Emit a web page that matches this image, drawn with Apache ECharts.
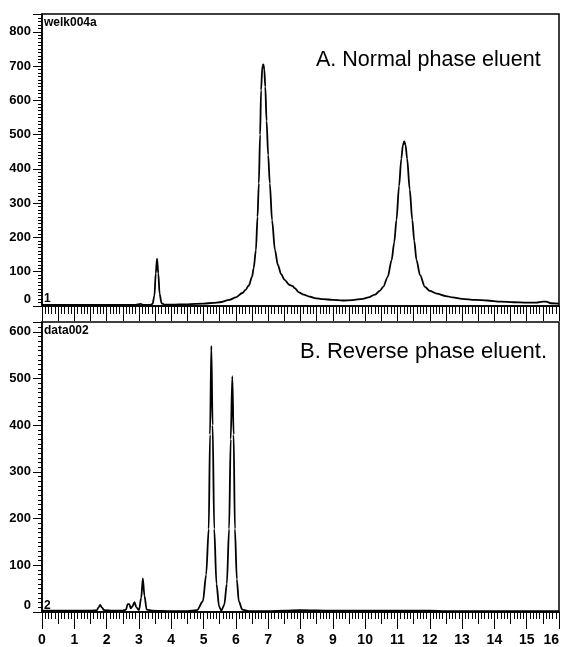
<!DOCTYPE html>
<html>
<head>
<meta charset="utf-8">
<script src="https://cdn.jsdelivr.net/npm/echarts@6/dist/echarts.min.js"></script>
<style>html,body{margin:0;padding:0;background:#fff;}#c{width:563px;height:647px;}</style>
</head>
<body>
<div id="c"></div>
<script>
// Panel A (normal phase) retention time (min) and signal
var topT = [0.0,0.5,1.0,1.5,2.0,2.5,2.9,3.05,3.15,3.35,3.42,3.48,3.52,3.56,3.60,3.64,3.70,3.8,4.0,4.5,5.0,5.3,5.5,5.8,6.0,6.2,6.3,6.4,6.5,6.55,6.62,6.67,6.71,6.75,6.78,6.82,6.85,6.88,6.91,6.95,7.0,7.05,7.12,7.21,7.3,7.4,7.51,7.65,7.76,7.82,7.95,8.1,8.3,8.44,8.7,9.0,9.3,9.6,9.93,10.1,10.3,10.45,10.56,10.7,10.82,10.9,10.97,11.05,11.12,11.17,11.21,11.25,11.3,11.38,11.46,11.52,11.59,11.7,11.85,12.0,12.22,12.5,12.71,13.0,13.4,13.77,14.2,14.6,15.0,15.3,15.5,15.6,15.75,16.0];
var topV = [3,3,3,3,3,3,3,6,3,3,6,30,95,138,95,35,8,4,4,5,7,9,11,18,25,38,47,60,85,110,163,260,358,500,630,700,705,690,640,540,440,358,250,163,120,93,76,62,58,52,40,33,27,23,20,18,16,17,21,25,33,44,56,85,134,185,251,350,430,470,480,470,430,340,251,190,134,90,56,44,36,29,25,21,18,16,13,11,10,10,13,13,8,7];
// Panel B (reverse phase)
var botT = [0.0,0.5,1.0,1.5,1.7,1.75,1.8,1.85,1.92,2.2,2.5,2.6,2.65,2.7,2.75,2.8,2.86,2.92,3.0,3.07,3.12,3.17,3.24,3.4,4.0,4.5,4.8,4.98,5.08,5.16,5.2,5.24,5.28,5.33,5.4,5.48,5.55,5.64,5.72,5.79,5.84,5.89,5.93,5.97,6.03,6.09,6.2,6.4,7.0,7.5,8.0,9.0,10.0,11.0,12.0,12.5,13.0,14.0,15.0,16.0];
var botV = [3,3,3,3,4,10,15,10,4,3,3,5,17,17,8,12,21,10,4,30,72,35,5,3,2,2,4,23,80,178,380,570,400,178,60,12,3,15,60,178,370,505,380,178,70,23,5,2,2,3,4,3,3,3,3,2,2,2,2,2];
var yTicksTop = [0,100,200,300,400,500,600,700,800];
var yTicksBot = [0,100,200,300,400,500,600];
var xTickLabels = ['0','1','2','3','4','5','6','7','8','9','10','11','12','13','14','15','16'];

function zip(a,b){return a.map(function(v,i){return [v,b[i]];});}

var font = 'Liberation Sans';
var lblStyle = {color:'#000', fontSize:13, fontFamily:font, fontWeight:'bold'};
var chart = echarts.init(document.getElementById('c'), null, {renderer:'canvas'});

function yAxis(grid, max, ticks){
  return {
    type:'value', gridIndex:grid, min:0, max:max, interval:100,
    axisLine:{show:true, lineStyle:{color:'#000', width:1.5}},
    axisTick:{show:true, length:9, lineStyle:{color:'#000', width:1}},
    minorTick:{show:true, splitNumber:10, length:4, lineStyle:{color:'#000', width:1}},
    splitLine:{show:false},
    axisLabel:Object.assign({margin:11, showMaxLabel:false,
      formatter:function(v){
        if (v === 0) return '{z|0}';
        return ticks.indexOf(v)>=0 ? String(v) : '';
      },
      rich:{z:{fontSize:13, fontFamily:font, fontWeight:'bold', color:'#000', padding:[0,0,13,0]}}
    }, lblStyle)
  };
}

var option = {
  animation:false,
  backgroundColor:'#fff',
  grid:[
    {left:42, top:14, width:517, height:292, show:true, borderColor:'#000', borderWidth:1.5, backgroundColor:'transparent'},
    {left:42, top:322, width:517, height:292, show:true, borderColor:'#000', borderWidth:1.5, backgroundColor:'transparent'}
  ],
  xAxis:[
    {type:'value', gridIndex:0, min:0, max:16, interval:0.5, position:'bottom',
     axisLine:{show:true, lineStyle:{color:'#000', width:1.5}},
     axisTick:{show:true, length:15, lineStyle:{color:'#000', width:1}},
     minorTick:{show:true, splitNumber:5, length:8, lineStyle:{color:'#000', width:1}},
     splitLine:{show:false}, axisLabel:{show:false}},
    {type:'value', gridIndex:1, min:0, max:16, interval:1, position:'bottom',
     axisLine:{show:true, lineStyle:{color:'#000', width:1.5}},
     axisTick:{show:true, length:17, lineStyle:{color:'#000', width:1}},
     minorTick:{show:true, splitNumber:10, length:7, lineStyle:{color:'#000', width:1}},
     splitLine:{show:false},
     axisLabel:Object.assign({margin:21, alignMaxLabel:'right', formatter:function(v){return xTickLabels[Math.round(v)] || '';}}, lblStyle, {fontSize:14})},
    {type:'value', gridIndex:1, min:0, max:16, interval:0.5, position:'bottom',
     axisLine:{show:false},
     axisTick:{show:true, length:12, lineStyle:{color:'#000', width:1}},
     splitLine:{show:false}, axisLabel:{show:false}}
  ],
  yAxis:[ yAxis(0, 852, yTicksTop), yAxis(1, 621, yTicksBot) ],
  series:[
    {type:'line', xAxisIndex:0, yAxisIndex:0, data:zip(topT, topV), showSymbol:false, smooth:0.3, smoothMonotone:'x',
     lineStyle:{color:'#000', width:1.8}, clip:true},
    {type:'line', xAxisIndex:1, yAxisIndex:1, data:zip(botT, botV), showSymbol:false, smooth:0.3, smoothMonotone:'x',
     lineStyle:{color:'#000', width:1.8}, clip:true}
  ],
  graphic:[
    {type:'text', left:44, top:17, style:{text:'welk004a', fontSize:12, fontFamily:font, fontWeight:'bold', fill:'#000'}},
    {type:'text', left:44, top:293, style:{text:'1', fontSize:12, fontFamily:font, fontWeight:'bold', fill:'#000'}},
    {type:'text', left:44, top:325, style:{text:'data002', fontSize:12, fontFamily:font, fontWeight:'bold', fill:'#000'}},
    {type:'text', left:44, top:600, style:{text:'2', fontSize:12, fontFamily:font, fontWeight:'bold', fill:'#000'}},
    {type:'text', left:316, top:49, style:{text:'A. Normal phase eluent', fontSize:21.5, fontFamily:font, fill:'#000'}},
    {type:'text', left:300, top:341, style:{text:'B. Reverse phase eluent.', fontSize:22, fontFamily:font, fill:'#000'}}
  ]
};
chart.setOption(option);
</script>
</body>
</html>
